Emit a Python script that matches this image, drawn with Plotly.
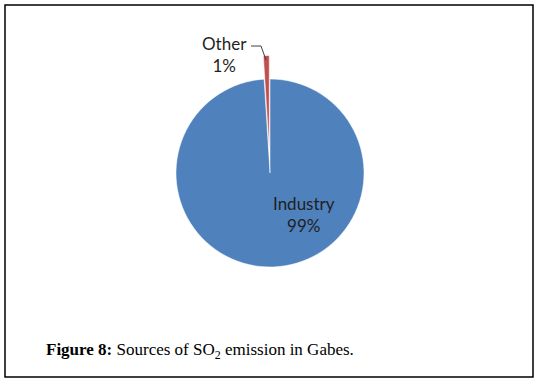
import plotly.graph_objects as go

# ---- data ----
labels = ["Industry", "Other"]
values = [99, 1]
colors = ["#4F81BD", "#C0504D"]
pulls = [0, 0.25]
caption_bold = "Figure 8:"
caption_text = "Sources of SO<sub>2</sub> emission in Gabes."

W, H = 536, 383


def px(x):
    return x / W


def py(y):
    return 1 - y / H


total = sum(values)
pct = [round(v / total * 100) for v in values]

cx, cy, r = 270, 173, 94
half = r * (1 + max(pulls))

fig = go.Figure(
    go.Pie(
        labels=labels,
        values=values,
        marker=dict(colors=colors, line=dict(color="white", width=0.5)),
        pull=pulls,
        sort=False,
        direction="clockwise",
        rotation=0,
        textinfo="none",
        hoverinfo="label+percent",
        showlegend=False,
        domain=dict(x=[px(cx - half), px(cx + half)],
                    y=[py(cy + half), py(cy - half)]),
    )
)

label_font = dict(family="Lato, Carlito, Calibri, sans-serif", size=17, color="#1f1f1f")
annotations = [
    dict(x=px(224), y=py(54), xref="paper", yref="paper",
         text=f"{labels[1]}<br>{pct[1]}%", showarrow=False, font=label_font,
         xanchor="center", yanchor="middle", align="center"),
    dict(x=px(304), y=py(214), xref="paper", yref="paper",
         text=f"{labels[0]}<br>{pct[0]}%", showarrow=False, font=label_font,
         xanchor="center", yanchor="middle", align="center"),
    dict(x=px(44), y=py(351), xref="paper", yref="paper",
         text=f"<b>{caption_bold}</b> {caption_text}", showarrow=False,
         font=dict(family="Liberation Serif, Times New Roman, serif", size=17, color="black"),
         xanchor="left", yanchor="middle", align="left"),
]

shapes = [
    dict(type="rect", xref="paper", yref="paper",
         x0=px(5), x1=px(533), y0=py(377), y1=py(5),
         line=dict(color="black", width=1.5)),
    dict(type="path", xref="paper", yref="paper",
         path=f"M {px(251)} {py(46)} L {px(261)} {py(46)} L {px(266)} {py(60)}",
         line=dict(color="#404040", width=1)),
]

fig.update_layout(
    width=W, height=H,
    margin=dict(l=0, r=0, t=0, b=0),
    paper_bgcolor="white",
    plot_bgcolor="white",
    annotations=annotations,
    shapes=shapes,
)

fig.write_html("out.html",
               config={"displayModeBar": False},
               post_script="document.body.style.margin='0';document.body.style.overflow='hidden';")
